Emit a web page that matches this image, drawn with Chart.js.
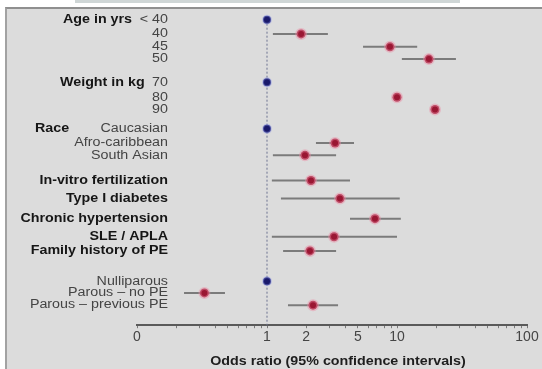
<!DOCTYPE html>
<html>
<head>
<meta charset="utf-8">
<script src="https://cdn.jsdelivr.net/npm/chart.js@4.4.0/dist/chart.umd.min.js"></script>
<style>
  html, body { margin: 0; padding: 0; background: #fff; }
  #wrap { position: relative; width: 542px; height: 369px; overflow: hidden; }
  #tab { position: absolute; left: 75px; top: 0; width: 385px; height: 3px; background: #cfd6d6; }
  #panel { position: absolute; left: 5px; top: 7px; right: 0; bottom: 0; background: #dcdcdc;
           border-top: 2px solid #8f8f8f; border-left: 2px solid #a2a2a2; }
  canvas { position: absolute; left: 0; top: 0; }
</style>
</head>
<body>
<div id="wrap">
  <div id="tab"></div>
  <div id="panel"></div>
  <canvas id="forest" width="542" height="369"></canvas>
</div>
<script>
// one entry per row, top to bottom
var rowLabels = ['< 40', '40', '45', '50',
                 '70', '80', '90',
                 'Caucasian', 'Afro-caribbean', 'South Asian',
                 'In-vitro fertilization', 'Type I diabetes', 'Chronic hypertension',
                 'SLE / APLA', 'Family history of PE',
                 'Nulliparous', 'Parous \u2013 no PE', 'Parous \u2013 previous PE'];
var boldRow = [false, false, false, false,
               false, false, false,
               false, false, false,
               true, true, true, true, true,
               false, false, false];
var oddsRatio = [1, 1.83, 8.83, 17.6,
                 1, 10.0, 19.6,
                 1, 3.34, 1.96,
                 2.18, 3.64, 6.77, 3.28, 2.14,
                 1, 0.33, 2.26];
var ciLow  = [null, 1.11, 5.48, 10.9,
              null, null, null,
              null, 2.38, 1.11,
              1.09, 1.28, 4.35, 1.09, 1.33,
              null, 0.23, 1.45];
var ciHigh = [null, 2.94, 14.3, 28.4,
              null, null, null,
              null, 4.67, 3.40,
              4.35, 10.5, 10.7, 10.0, 3.40,
              null, 0.475, 3.52];
var groupHeads = ['Age in yrs', 'Weight in kg', 'Race'];
var groupRows = [0, 4, 7];
var tickValues = [0.1, 1, 2, 5, 10, 100];
var tickText = ['0', '1', '2', '5', '10', '100'];
var axisTitle = 'Odds ratio (95% confidence intervals)';

// layout: space above each row (in half lines), where group names start,
// and a slight horizontal stretch of the lettering
var rowGap = [0, 2.2, 2, 1.9, 3.6, 2.3, 1.9, 3, 2.2, 1.9, 3.9, 2.8, 3.1, 2.8, 2.2, 4.7, 1.8, 1.9];
var headX = [63, 60, 35];
var labelRight = 168;
var STRETCH = 1.19;
var FONT = '"Liberation Sans", Arial, sans-serif';

var slot = [];
var s = 0;
for (var i = 0; i < rowGap.length; i++) {
    s += rowGap[i];
    slot.push(s);
}

// minor ticks 0.1..0.9, 1..9, 10..90, 100
var minorTicks = [];
[0.1, 1, 10].forEach(function(d){
    for (var m = 1; m <= 9; m++) minorTicks.push(+(d * m).toPrecision(3));
});
minorTicks.push(100);

var refPts = [], riskPts = [];
var datasets = [];
for (var i = 0; i < oddsRatio.length; i++) {
    var pt = {x: oddsRatio[i], y: slot[i]};
    if (oddsRatio[i] === 1) refPts.push(pt); else riskPts.push(pt);
    if (ciLow[i] != null) {
        datasets.push({
            type: 'line',
            data: [{x: ciLow[i], y: slot[i]}, {x: ciHigh[i], y: slot[i]}],
            borderColor: '#7b7b7b',
            borderWidth: 2,
            pointRadius: 0,
            order: 3,
            clip: false
        });
    }
}

// dotted line at odds ratio 1
datasets.push({
    type: 'line',
    data: [{x: 1, y: 0}, {x: 1, y: 47.3}],
    borderColor: '#6d7290',
    borderWidth: 1,
    borderDash: [2, 2],
    pointRadius: 0,
    order: 4,
    clip: false
});
datasets.push({
    type: 'scatter',
    data: riskPts,
    backgroundColor: '#9a1733',
    borderColor: 'rgba(235, 140, 165, 0.45)',
    borderWidth: 3,
    pointRadius: 4.5,
    order: 1,
    clip: false
});
datasets.push({
    type: 'scatter',
    data: refPts,
    backgroundColor: '#19196a',
    borderColor: 'rgba(140, 150, 230, 0.4)',
    borderWidth: 2,
    pointRadius: 4,
    order: 0,
    clip: false
});

function stretchedText(ctx, text, x, y) {
    ctx.save();
    ctx.translate(x, y);
    ctx.scale(STRETCH, 1);
    ctx.fillText(text, 0, 0);
    ctx.restore();
}

var rowText = {
    id: 'rowText',
    afterDatasetsDraw: function(chart) {
        var ctx = chart.ctx, ys = chart.scales.y, xs = chart.scales.x;
        ctx.save();
        ctx.textBaseline = 'middle';
        ctx.textAlign = 'right';
        for (var i = 0; i < rowLabels.length; i++) {
            ctx.font = (boldRow[i] ? 'bold ' : '') + '12px ' + FONT;
            ctx.fillStyle = boldRow[i] ? '#161616' : '#444';
            stretchedText(ctx, rowLabels[i], labelRight, ys.getPixelForValue(slot[i]));
        }
        ctx.textAlign = 'left';
        ctx.font = 'bold 12px ' + FONT;
        ctx.fillStyle = '#161616';
        for (var g = 0; g < groupHeads.length; g++) {
            stretchedText(ctx, groupHeads[g], headX[g], ys.getPixelForValue(slot[groupRows[g]]));
        }
        // axis title under the tick labels
        ctx.textAlign = 'center';
        ctx.fillStyle = '#1e1e1e';
        stretchedText(ctx, axisTitle, (xs.left + xs.right) / 2 + 6, xs.bottom + 15);
        ctx.restore();
    }
};

var chart = new Chart(document.getElementById('forest').getContext('2d'), {
    data: { datasets: datasets },
    options: {
        responsive: false,
        animation: false,
        devicePixelRatio: 1,
        layout: { padding: { left: 137, right: 15, top: 10, bottom: 22 } },
        plugins: { legend: { display: false }, tooltip: { enabled: false } },
        scales: {
            x: {
                type: 'logarithmic',
                min: 0.1,
                max: 100,
                afterBuildTicks: function(scale) {
                    scale.ticks = minorTicks.map(function(v){ return {value: v}; });
                },
                ticks: {
                    autoSkip: false,
                    maxRotation: 0,
                    padding: 1,
                    color: '#454545',
                    font: { size: 14, family: FONT },
                    callback: function(v) {
                        var k = tickValues.indexOf(v);
                        return k < 0 ? '' : tickText[k];
                    }
                },
                grid: { drawOnChartArea: false, drawTicks: true, tickLength: 3, color: '#7a7a7a' },
                border: { display: true, color: '#5a5a5a', width: 2 }
            },
            y: { type: 'linear', reverse: true, min: -1.5, max: 47.3, display: false }
        }
    },
    plugins: [rowText]
});
</script>
</body>
</html>
